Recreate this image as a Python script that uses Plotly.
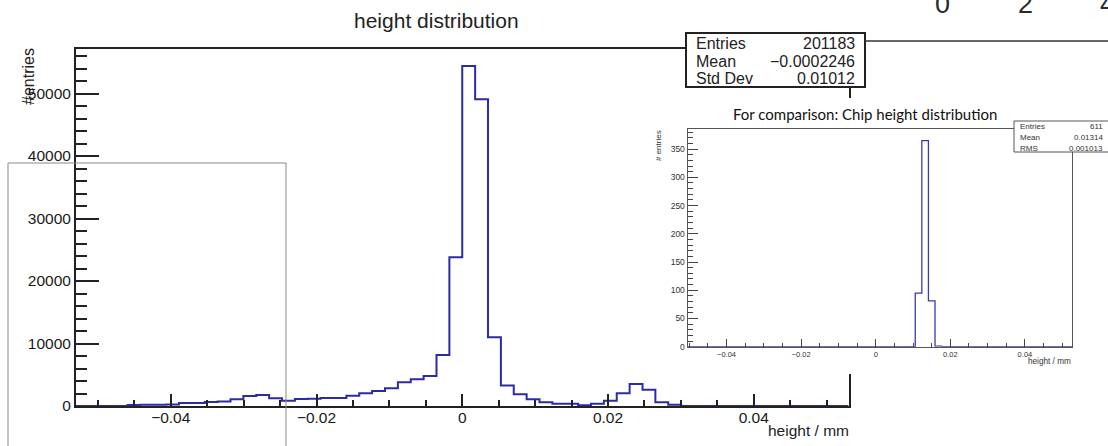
import plotly.graph_objects as go

W, H = 1108, 446

# binning of both histograms
x_min, x_max, n_bins = -0.053, 0.053, 60

# measured height distribution (entries per bin)
counts = [0, 0, 0, 0, 150, 200, 200, 250, 480, 480, 650, 730, 1070, 1600, 1760, 1230,
          850, 1120, 1150, 1280, 1300, 1650, 2030, 2400, 2830, 3790, 4270, 4800, 8160,
          23800, 54400, 49070, 11000, 3300, 1870, 1100, 600, 370, 370, 110, 350, 850,
          2030, 3520, 2600, 600, 200,
          0, 0, 0, 0, 0, 0, 0, 0, 0, 0, 0, 0, 0]

# chip height distribution for comparison
chip_counts = [0, 0, 0, 0, 0, 0, 0, 0, 0, 0, 0, 0, 0, 0, 0, 0, 0, 0, 0, 0,
               0, 0, 0, 0, 0, 0, 0, 0, 0, 0, 0, 0, 0, 0, 0, 0, 95, 365, 81, 1,
               0, 0, 0, 0, 0, 0, 0, 0, 0, 0, 0, 0, 0, 0, 0, 0, 0, 0, 0, 0]

stats_labels = ["Entries", "Mean", "Std Dev"]
stats_values = ["201183", "\u22120.0002246", "0.01012"]
chip_stats_labels = ["Entries", "Mean", "RMS"]
chip_stats_values = ["611", "0.01314", "0.001013"]
top_digits = ["0", "2", "4"]

FONT = "Liberation Sans, Arial, sans-serif"
DARK = "#222222"
BLUE = "#2b2ba6"


def px(x):
    return x / W


def py(y):
    return 1 - y / H


edges = [x_min + i * (x_max - x_min) / n_bins for i in range(n_bins + 1)]

fig = go.Figure()

fig.add_trace(go.Scatter(x=edges, y=counts + [counts[-1]], mode="lines", line_shape="hv",
                         line=dict(color=BLUE, width=2), xaxis="x", yaxis="y",
                         hoverinfo="skip"))
# empty subplot used only as a white patch (the pasted inset picture)
fig.add_trace(go.Scatter(x=[None], y=[None], mode="lines", xaxis="x2", yaxis="y2",
                         hoverinfo="skip"))
fig.add_trace(go.Scatter(x=edges, y=chip_counts + [chip_counts[-1]], mode="lines",
                         line_shape="hv", line=dict(color="#3a3ab0", width=1.3),
                         xaxis="x3", yaxis="y3", hoverinfo="skip"))

main_ax = dict(showline=True, linecolor=DARK, linewidth=2, mirror=True, ticks="inside",
               tickwidth=2, tickcolor=DARK, showgrid=False, zeroline=False,
               automargin=False, tickfont=dict(family=FONT, size=15.5, color="#1a1a1a"))
inset_ax = dict(showline=True, linecolor="#555555", linewidth=1.3, mirror=True,
                ticks="inside", tickwidth=1, tickcolor="#444444", showgrid=False,
                zeroline=False, automargin=False)

fig.update_layout(
    template="none",
    width=W, height=H, margin=dict(l=0, r=0, t=0, b=0, pad=0, autoexpand=False),
    paper_bgcolor="white", plot_bgcolor="white", showlegend=False,
    xaxis=dict(main_ax, domain=[px(76), px(848.5)], range=[x_min, x_max], anchor="y",
               dtick=0.02, tick0=0, ticklen=12, ticklabelstandoff=-4,
               minor=dict(dtick=0.005, ticklen=6, tickwidth=2, tickcolor=DARK,
                          ticks="inside", showgrid=False)),
    yaxis=dict(main_ax, domain=[py(406), py(49)], range=[0, 57120], anchor="x",
               dtick=10000, tick0=0, ticklen=23, tickformat="d",
               minor=dict(dtick=2000, ticklen=11, tickwidth=2, tickcolor=DARK,
                          ticks="inside", showgrid=False)),
    xaxis2=dict(domain=[px(645), 1], range=[0, 1], anchor="y2", visible=False,
                automargin=False),
    yaxis2=dict(domain=[py(374), py(98)], range=[0, 1], anchor="x2", visible=False,
                automargin=False),
    xaxis3=dict(inset_ax, domain=[px(687.7), px(1072.3)], range=[-0.0504, 0.0527],
                anchor="y3", dtick=0.02, tick0=0, ticklen=8,
                tickfont=dict(family=FONT, size=7.5, color="#333333"),
                minor=dict(dtick=0.005, ticklen=4, tickwidth=1, tickcolor="#444444",
                           ticks="inside", showgrid=False)),
    yaxis3=dict(inset_ax, domain=[py(346.7), py(129.3)], range=[0, 385], anchor="x3",
                dtick=50, tick0=0, ticklen=10,
                tickfont=dict(family=FONT, size=8.5, color="#333333"),
                minor=dict(dtick=10, ticklen=5, tickwidth=1, tickcolor="#444444",
                           ticks="inside", showgrid=False)),
)

shapes = [
    # main statistics box
    dict(type="rect", xref="paper", yref="paper", x0=px(686), x1=px(865), y0=py(87),
         y1=py(33), fillcolor="white", line=dict(color=DARK, width=2), layer="above"),
    dict(type="line", xref="paper", yref="paper", x0=px(865), x1=1, y0=py(41), y1=py(41),
         line=dict(color="#333333", width=1.5), layer="above"),
    # chip statistics box
    dict(type="rect", xref="paper", yref="paper", x0=px(1014), x1=px(1120), y0=py(152),
         y1=py(121), fillcolor="white", line=dict(color="#555555", width=1),
         layer="above"),
    # thin grey frame at lower left
    dict(type="rect", xref="paper", yref="paper", x0=px(8), x1=px(286), y0=py(470),
         y1=py(163), line=dict(color="#8a8a8a", width=1), layer="above"),
]
fig.update_layout(shapes=shapes)


def note(text, x, y, size, xanchor="center", color=DARK, family=FONT, angle=0):
    fig.add_annotation(text=text, x=px(x), y=py(y), xref="paper", yref="paper",
                       showarrow=False, xanchor=xanchor, yanchor="middle",
                       textangle=angle, font=dict(family=family, size=size, color=color))


note("height distribution", 436, 20, 21)
note("height / mm", 851, 430, 15.5, xanchor="right")
note("#entries", 28, 76, 16, angle=-90)

for lab, val, yy in zip(stats_labels, stats_values, [43.3, 61, 78.3]):
    note(lab, 694, yy, 16, xanchor="left")
    note(val, 857, yy, 16, xanchor="right")

note("For comparison: Chip height distribution", 865, 113.5, 15,
     family="Lato, Open Sans, sans-serif", color="#111111")
note("# entries", 658, 146, 8, angle=-90, color="#333333")
note("height / mm", 1073, 361.5, 8.2, xanchor="right", color="#333333")
for lab, val, yy in zip(chip_stats_labels, chip_stats_values, [126.7, 137.3, 148.3]):
    note(lab, 1018, yy, 8, xanchor="left", color="#333333")
    note(val, 1105, yy, 8, xanchor="right", color="#333333")

for d, xx in zip(top_digits, [942.7, 1025, 1107.5]):
    note(d, xx, 4, 27, color="#2a2a2a")

fig.write_html("out.html", config={"displayModeBar": False},
               post_script="document.body.style.margin='0';"
                           "document.body.style.overflow='hidden';")
